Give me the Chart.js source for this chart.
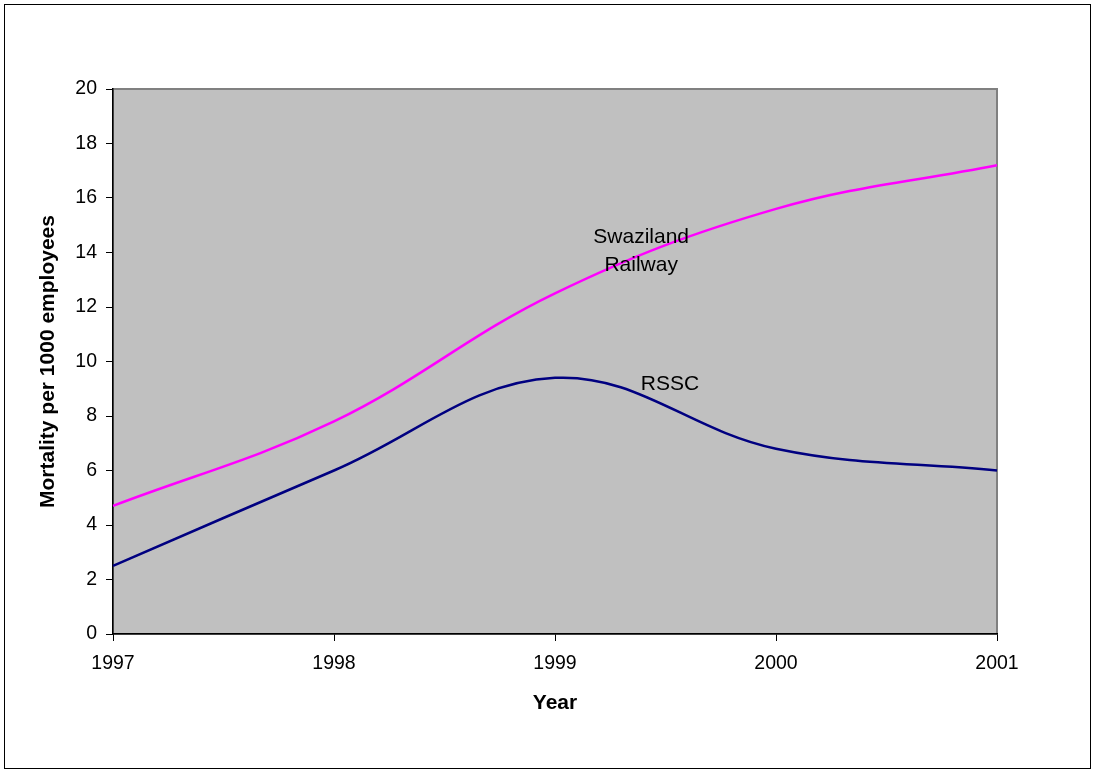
<!DOCTYPE html>
<html>
<head>
<meta charset="utf-8">
<script src="https://cdn.jsdelivr.net/npm/chart.js@4"></script>
<style>
  html, body { margin: 0; padding: 0; background: #fff; }
  #wrap { width: 1094px; height: 773px; }
</style>
</head>
<body>
<div id="wrap"><canvas id="chart" width="1094" height="773"></canvas></div>
<script>
// Data
const years = ['1997', '1998', '1999', '2000', '2001'];
const swazilandRailway = [4.7, 7.8, 12.5, 15.6, 17.2];
const rssc = [2.5, 6.0, 9.4, 6.8, 6.0];
const yTicks = [0, 2, 4, 6, 8, 10, 12, 14, 16, 18, 20];

// labels written inside the plot (x = category index, y = value)
const seriesLabels = [
  { lines: ['Swaziland', 'Railway'], x: 2.39, y: 14.05 },
  { lines: ['RSSC'], x: 2.52, y: 9.15 }
];

const FONT = 'Arial, "Liberation Sans", sans-serif';

// grey plot area with thin grey frame
const plotBg = {
  id: 'plotBg',
  beforeDraw(chart) {
    const { ctx, chartArea: a } = chart;
    ctx.save();
    ctx.fillStyle = '#c0c0c0';
    ctx.fillRect(a.left, a.top, a.right - a.left, a.bottom - a.top);
    ctx.strokeStyle = '#808080';
    ctx.lineWidth = 2;
    ctx.strokeRect(a.left, a.top, a.right - a.left, a.bottom - a.top);
    ctx.restore();
  },
  afterDraw(chart) {
    const { ctx } = chart;
    ctx.save();
    ctx.strokeStyle = '#000';
    ctx.lineWidth = 1;
    ctx.strokeRect(4.5, 4.5, 1086, 764);
    ctx.restore();
  }
};

const inlineLabels = {
  id: 'inlineLabels',
  afterDatasetsDraw(chart) {
    const { ctx, scales } = chart;
    ctx.save();
    ctx.font = '21px ' + FONT;
    ctx.fillStyle = '#000';
    ctx.textAlign = 'center';
    ctx.textBaseline = 'middle';
    for (const l of seriesLabels) {
      const px = scales.x.getPixelForValue(l.x);
      const py = scales.y.getPixelForValue(l.y);
      const lh = 28;
      const y0 = py - (l.lines.length - 1) * lh / 2;
      l.lines.forEach((t, i) => ctx.fillText(t, px, y0 + i * lh));
    }
    ctx.restore();
  }
};

new Chart(document.getElementById('chart'), {
  type: 'line',
  data: {
    labels: years,
    datasets: [
      { label: 'Swaziland Railway', data: swazilandRailway, borderColor: '#ff00ff', borderWidth: 2.5, pointRadius: 0, tension: 0.38 },
      { label: 'RSSC', data: rssc, borderColor: '#000080', borderWidth: 2.5, pointRadius: 0, tension: 0.38 }
    ]
  },
  options: {
    responsive: false,
    animation: false,
    layout: { padding: { top: 89, right: 97, left: 0, bottom: 0 } },
    plugins: { legend: { display: false }, tooltip: { enabled: false } },
    scales: {
      x: {
        offset: false,
        afterFit(axis) { axis.height = 139; },
        grid: { drawOnChartArea: false, drawTicks: true, tickLength: 7, color: '#000' },
        border: { display: true, color: '#000', width: 1.5 },
        ticks: { color: '#000', font: { family: FONT, size: 19.5 }, padding: 11, maxRotation: 0 },
        title: { display: true, text: 'Year', color: '#000', font: { family: FONT, size: 21, weight: 'bold' }, padding: { top: 0, bottom: 57 } }
      },
      y: {
        min: 0,
        max: 20,
        afterFit(axis) { axis.width = 113; },
        afterBuildTicks(axis) { axis.ticks = yTicks.map(v => ({ value: v })); },
        grid: { drawOnChartArea: false, drawTicks: true, tickLength: 7, color: '#000' },
        border: { display: true, color: '#000', width: 1.5 },
        ticks: { color: '#000', font: { family: FONT, size: 19.5 }, padding: 9 },
        title: { display: true, text: 'Mortality per 1000 employees', color: '#000', font: { family: FONT, size: 21, weight: 'bold' }, padding: { top: 36, bottom: 0 } }
      }
    }
  },
  plugins: [plotBg, inlineLabels]
});
</script>
</body>
</html>
